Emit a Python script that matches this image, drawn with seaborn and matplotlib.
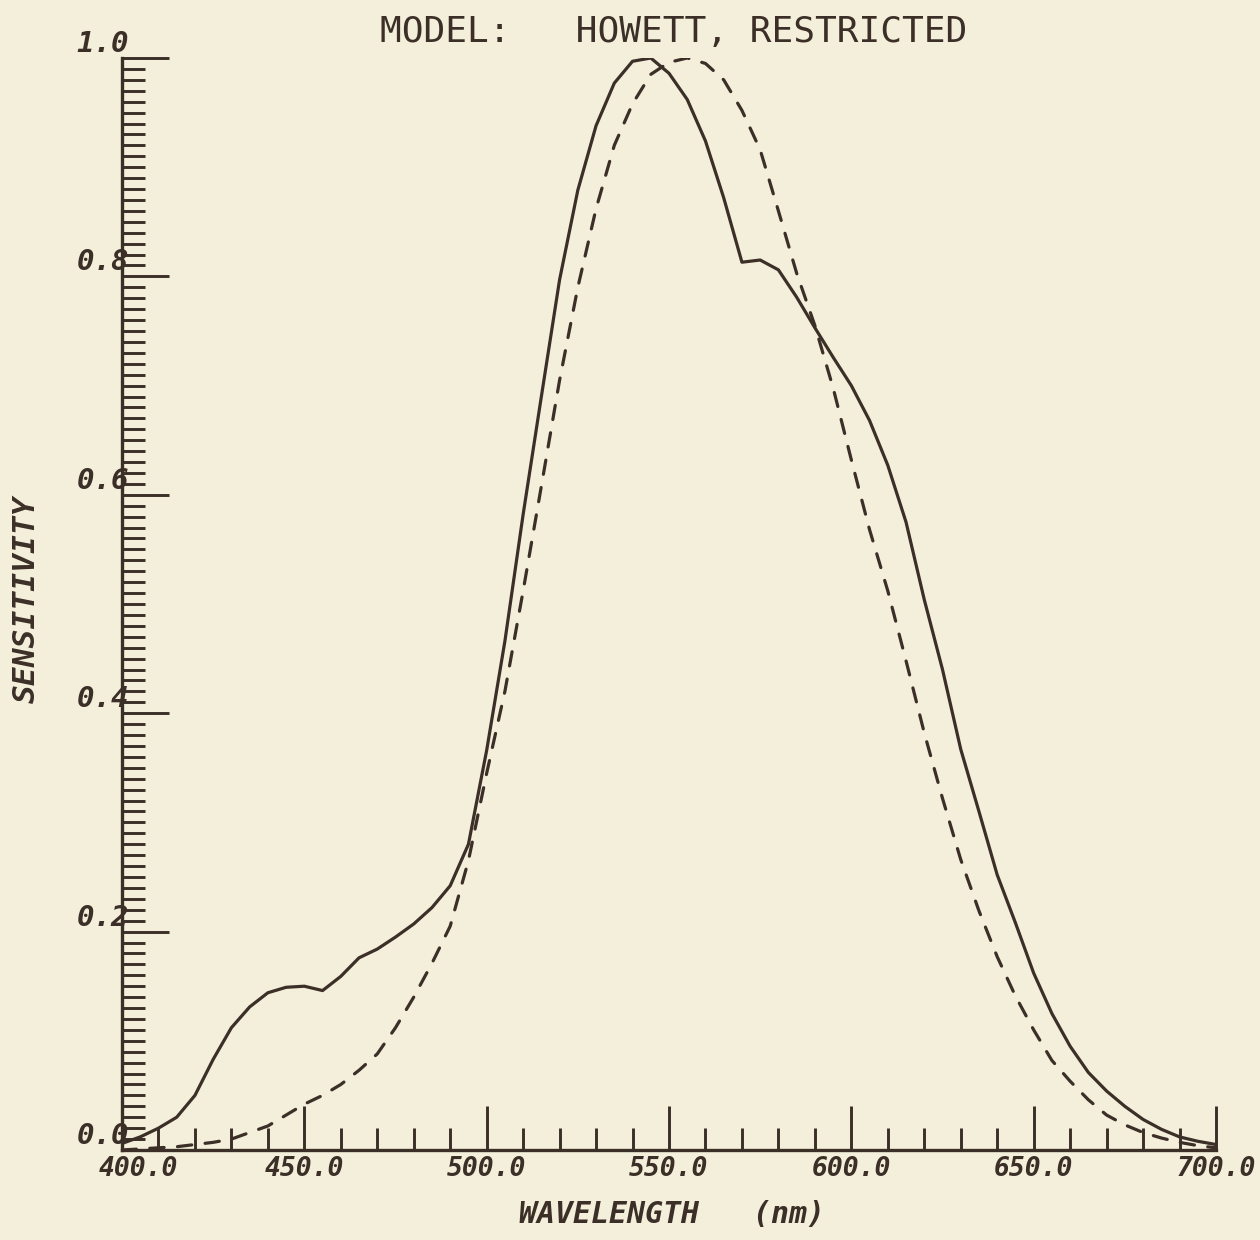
import matplotlib
matplotlib.use("Agg")
import matplotlib.pyplot as plt
import matplotlib.transforms as mtransforms
from matplotlib.ticker import MultipleLocator, FixedLocator
import numpy as np
import pandas as pd
import seaborn as sns

# Wavelength grid (nm) and the two sensitivity curves
wavelength = list(range(400, 705, 5))

measured = [
    0.006, 0.012, 0.020, 0.030, 0.050, 0.083, 0.112, 0.131, 0.144, 0.149,
    0.150, 0.146, 0.159, 0.176, 0.184, 0.195, 0.207, 0.222, 0.242, 0.280,
    0.366, 0.466, 0.582, 0.690, 0.797, 0.879, 0.938, 0.977, 0.997, 1.000,
    0.986, 0.962, 0.924, 0.872, 0.813, 0.815, 0.806, 0.781, 0.753, 0.726,
    0.700, 0.668, 0.627, 0.575, 0.504, 0.440, 0.367, 0.310, 0.252, 0.208,
    0.162, 0.125, 0.095, 0.071, 0.054, 0.040, 0.028, 0.019, 0.012, 0.008,
    0.005,
]

model = [
    0.000, 0.001, 0.002, 0.003, 0.005, 0.007, 0.010, 0.016, 0.022, 0.032,
    0.042, 0.050, 0.060, 0.073, 0.088, 0.112, 0.140, 0.171, 0.205, 0.265,
    0.345, 0.420, 0.512, 0.608, 0.705, 0.790, 0.862, 0.920, 0.958, 0.985,
    0.996, 1.000, 0.995, 0.980, 0.952, 0.916, 0.860, 0.803, 0.755, 0.698,
    0.632, 0.568, 0.512, 0.448, 0.382, 0.322, 0.266, 0.219, 0.177, 0.141,
    0.110, 0.082, 0.063, 0.046, 0.032, 0.023, 0.016, 0.011, 0.007, 0.004,
    0.002,
]

x_ticklabels = ["400.0", "450.0", "500.0", "550.0", "600.0", "650.0", "700.0"]
y_ticklabels = ["0.0", "0.2", "0.4", "0.6", "0.8", "1.0"]

paper = "#f4efdb"
ink = "#3b2f27"

sns.set_theme(style="ticks")
plt.rcParams["font.family"] = ["DejaVu Sans Mono", "DejaVu Sans"]
plt.rcParams["axes.facecolor"] = paper
plt.rcParams["figure.facecolor"] = paper

df = pd.DataFrame({"wavelength": wavelength, "measured": measured, "model": model})

fig = plt.figure(figsize=(12.6, 12.4), dpi=100)
ax = fig.add_axes([122 / 1260, 1 - 1150 / 1240, 1094 / 1260, 1092 / 1240])

sns.lineplot(data=df, x="wavelength", y="measured", ax=ax, color=ink,
             linewidth=2.3, solid_joinstyle="round", solid_capstyle="round")
sns.lineplot(data=df, x="wavelength", y="model", ax=ax, color=ink,
             linewidth=2.3, linestyle=(0, (4.5, 4.2)), dash_capstyle="round")

ax.set_xlim(400, 700)
ax.set_ylim(0, 1.0)

for side in ("top", "right"):
    ax.spines[side].set_visible(False)
for side in ("left", "bottom"):
    ax.spines[side].set_color(ink)
    ax.spines[side].set_linewidth(2.4)

# x axis: long ticks every 50 nm, short every 10 nm, pointing up into the plot
ax.xaxis.set_major_locator(FixedLocator([400, 450, 500, 550, 600, 650, 700]))
ax.xaxis.set_minor_locator(MultipleLocator(10))
ax.set_xticklabels(x_ticklabels)
ax.tick_params(axis="x", which="major", direction="in", length=32, width=2.1,
               color=ink, pad=4, labelsize=19, labelcolor=ink)
ax.tick_params(axis="x", which="minor", direction="in", length=16, width=2.1,
               color=ink)

# y axis: dense comb of 0.01 ticks, longer ones every 0.2
ax.yaxis.set_major_locator(FixedLocator([0.0, 0.2, 0.4, 0.6, 0.8, 1.0]))
ax.yaxis.set_minor_locator(MultipleLocator(0.01))
ax.set_yticklabels(y_ticklabels)
ax.tick_params(axis="y", which="major", direction="in", length=34, width=2.1,
               color=ink, pad=-5, labelsize=21, labelcolor=ink)
ax.tick_params(axis="y", which="minor", direction="in", length=16.5, width=2.1,
               color=ink)

for lab in ax.get_xticklabels() + ax.get_yticklabels():
    lab.set_fontstyle("oblique")
    lab.set_fontweight("bold")
for lab in ax.get_yticklabels():
    lab.set_verticalalignment("bottom")

first = ax.get_xticklabels()[0]
first.set_transform(first.get_transform() +
                    mtransforms.ScaledTranslation(16 / 100, 0, fig.dpi_scale_trans))

ax.set_xlabel("WAVELENGTH   (nm)", fontsize=21.5, fontstyle="oblique",
              fontweight="bold", color=ink)
ax.xaxis.set_label_coords(0.503, -0.046)
ax.set_ylabel("SENSITIVITY", fontsize=22.5, fontstyle="oblique",
              fontweight="bold", color=ink)
ax.yaxis.set_label_coords(-0.074, 0.504)

ax.text(0.504, 1.024, "MODEL:   HOWETT, RESTRICTED", transform=ax.transAxes,
        ha="center", va="center", fontsize=26, color=ink)

ax.grid(False)
fig.savefig("out.png", dpi=100, facecolor=paper)
